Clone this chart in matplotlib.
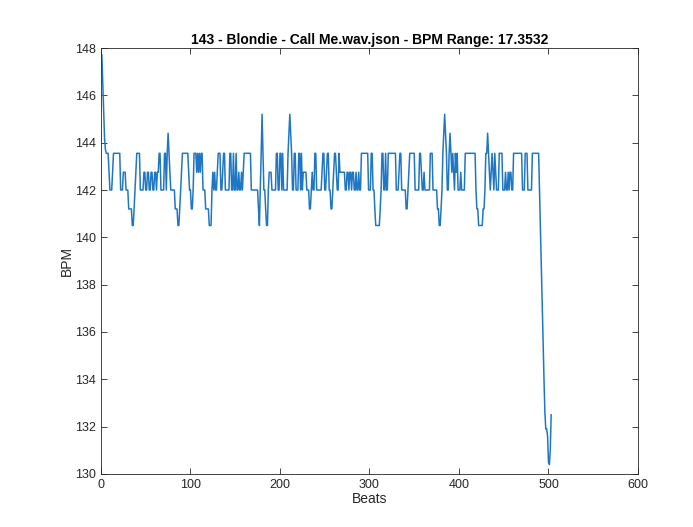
import matplotlib
matplotlib.use("Agg")
import matplotlib.pyplot as plt

plt.rcParams['font.family'] = ['Liberation Sans', 'DejaVu Sans']

title_text = "143 - Blondie - Call Me.wav.json - BPM Range: 17.3532"
x_label = "Beats"
y_label = "BPM"
x_ticks = [0, 100, 200, 300, 400, 500, 600]
y_ticks = [130, 132, 134, 136, 138, 140, 142, 144, 146, 148]

bpm = [
    147.7, 146.5, 145.3, 144.2, 143.7, 143.55, 143.55, 143.55, 142.75, 142.0,
    142.0, 142.0, 142.75, 143.55, 143.55, 143.55, 143.55, 143.55, 143.55, 143.55,
    143.55, 142.0, 142.0, 142.0, 142.75, 142.75, 142.75, 142.0, 142.0, 142.0,
    141.2, 141.2, 141.2, 141.2, 140.5, 140.5, 141.2, 142.0, 142.75, 143.55,
    143.55, 143.55, 143.55, 142.0, 142.0, 142.0, 142.0, 142.75, 142.75, 142.0,
    142.0, 142.75, 142.75, 142.0, 142.0, 142.75, 142.75, 142.0, 142.0, 142.75,
    142.75, 142.0, 142.75, 142.75, 143.55, 143.55, 142.0, 142.0, 142.0, 142.0,
    143.55, 143.55, 142.0, 143.55, 144.4, 143.55, 142.75, 142.0, 142.0, 142.0,
    142.0, 142.0, 141.2, 141.2, 141.2, 140.5, 140.5, 141.2, 142.0, 142.75,
    143.55, 143.55, 143.55, 143.55, 143.55, 143.55, 143.55, 142.75, 142.0, 142.0,
    141.2, 141.2, 142.0, 143.55, 143.55, 143.55, 142.75, 143.55, 142.75, 143.55,
    142.75, 143.55, 143.55, 142.0, 142.0, 142.0, 141.2, 141.2, 141.2, 141.2,
    140.5, 140.5, 140.5, 142.0, 142.75, 142.0, 142.75, 142.0, 142.0, 142.75,
    143.55, 143.55, 143.55, 142.0, 142.0, 142.75, 143.55, 143.55, 142.0, 142.0,
    142.0, 142.0, 142.0, 143.55, 143.55, 142.0, 142.0, 143.55, 142.0, 142.0,
    143.55, 142.0, 142.0, 142.75, 142.0, 142.0, 142.75, 142.0, 142.75, 143.55,
    143.55, 143.55, 143.55, 143.55, 143.55, 143.55, 143.55, 142.0, 142.0, 142.0,
    142.0, 142.0, 142.0, 142.0, 142.0, 141.2, 140.5, 142.0, 143.55, 145.2,
    143.55, 142.0, 142.0, 141.2, 140.5, 140.5, 142.0, 142.75, 142.75, 142.75,
    142.0, 142.0, 142.0, 142.0, 142.0, 143.55, 143.55, 142.0, 142.0, 143.55,
    143.55, 142.0, 143.55, 142.0, 142.0, 142.0, 142.0, 142.0, 143.55, 144.4,
    145.2, 144.4, 143.55, 142.0, 142.0, 143.55, 143.55, 142.0, 142.0, 142.0,
    143.55, 143.55, 142.0, 143.55, 142.0, 142.75, 142.75, 142.75, 142.75, 142.0,
    142.0, 142.0, 141.2, 141.2, 142.0, 142.75, 142.0, 142.0, 143.55, 143.55,
    142.0, 142.0, 142.0, 142.0, 142.0, 142.0, 142.75, 143.55, 143.55, 142.0,
    142.0, 142.75, 143.55, 143.55, 142.0, 142.0, 141.2, 141.2, 142.0, 142.75,
    143.55, 143.55, 142.75, 142.0, 142.0, 143.55, 142.75, 142.75, 142.75, 142.75,
    142.75, 142.75, 142.0, 142.0, 142.75, 142.75, 142.0, 142.75, 142.75, 142.0,
    142.75, 142.75, 142.0, 142.0, 142.75, 142.0, 142.0, 142.75, 142.0, 142.0,
    143.55, 143.55, 143.55, 143.55, 143.55, 143.55, 143.55, 143.55, 142.0, 142.0,
    142.0, 143.55, 143.55, 142.0, 142.0, 141.2, 140.5, 140.5, 140.5, 140.5,
    140.5, 141.2, 142.0, 143.55, 143.55, 142.0, 142.0, 143.55, 142.0, 142.0,
    143.55, 143.55, 143.55, 143.55, 143.55, 143.55, 143.55, 143.55, 143.55, 142.0,
    142.0, 142.0, 142.75, 143.55, 143.55, 142.0, 142.0, 142.0, 142.0, 142.0,
    141.2, 141.2, 142.0, 142.75, 143.55, 143.55, 143.55, 143.55, 143.55, 143.55,
    142.0, 142.0, 142.0, 142.0, 142.0, 143.55, 143.55, 142.75, 142.0, 142.0,
    142.75, 142.0, 142.0, 142.0, 142.0, 142.0, 142.0, 143.55, 143.55, 143.55,
    142.0, 142.0, 142.0, 142.0, 142.0, 141.2, 141.2, 140.5, 140.5, 141.2,
    142.0, 143.55, 144.4, 145.2, 144.4, 143.55, 142.0, 142.0, 143.55, 144.4,
    143.55, 142.75, 143.55, 142.75, 142.0, 143.55, 142.75, 143.55, 142.0, 142.0,
    142.0, 142.75, 142.0, 142.0, 142.0, 142.0, 143.55, 143.55, 143.55, 143.55,
    143.55, 143.55, 143.55, 143.55, 143.55, 143.55, 143.55, 143.55, 142.0, 141.2,
    141.2, 140.5, 140.5, 140.5, 140.5, 140.5, 141.2, 141.2, 142.0, 143.55,
    143.55, 144.4, 143.55, 142.75, 142.0, 142.75, 143.55, 142.75, 142.0, 143.55,
    142.75, 142.0, 142.0, 142.0, 143.55, 143.55, 143.55, 143.55, 142.0, 142.0,
    142.0, 142.75, 142.0, 142.0, 142.75, 142.0, 142.75, 142.75, 142.0, 142.0,
    143.55, 143.55, 143.55, 143.55, 143.55, 143.55, 143.55, 143.55, 143.55, 143.55,
    142.0, 142.0, 142.0, 143.55, 143.55, 143.55, 142.0, 142.0, 142.0, 142.0,
    142.0, 143.55, 143.55, 143.55, 143.55, 143.55, 143.55, 143.55, 143.55, 142.0,
    140.4, 138.8, 137.2, 135.6, 134.0, 132.6, 131.9, 131.9, 131.6, 130.5,
    130.4, 131.0, 132.5,
]
beats = list(range(1, len(bpm) + 1))

fig = plt.figure(figsize=(6.93, 5.27), dpi=100)
ax = fig.add_axes([0.1457, 0.1006, 0.7749, 0.8083])
ax.plot(beats, bpm, color='#1f77c4', linewidth=1.1)
ax.set_xlim(0, 600)
ax.set_ylim(130, 148)
ax.set_xticks(x_ticks)
ax.set_yticks(y_ticks)
ax.tick_params(direction='in', top=True, right=True, length=4, width=0.6,
               labelsize=9, colors='#262626')
for s in ax.spines.values():
    s.set_linewidth(0.6)
    s.set_color('#262626')
ax.set_xlabel(x_label, fontsize=10, color='#262626', labelpad=1)
ax.set_ylabel(y_label, fontsize=10, color='#262626', labelpad=1)
ax.set_title(title_text, fontsize=10, fontweight='bold', color='black', pad=3)
fig.savefig("out.png", dpi=100)
